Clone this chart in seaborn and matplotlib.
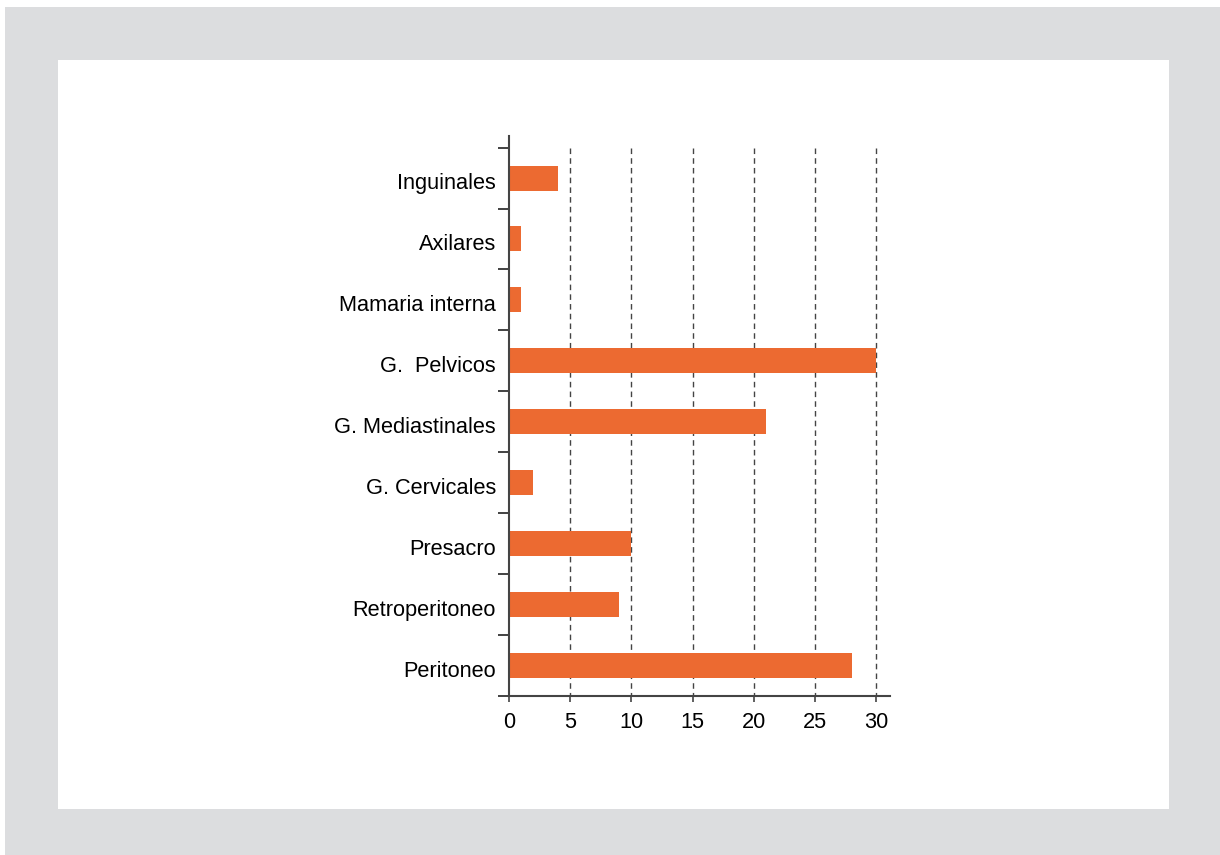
import numpy as np
import pandas as pd
import matplotlib
matplotlib.use("Agg")
import matplotlib.pyplot as plt
from matplotlib.patches import Rectangle
from matplotlib.ticker import FixedLocator
from matplotlib.transforms import ScaledTranslation
import seaborn as sns

# datos
categorias = ["Inguinales", "Axilares", "Mamaria interna", "G.  Pelvicos",
              "G. Mediastinales", "G. Cervicales", "Presacro",
              "Retroperitoneo", "Peritoneo"]
valores = [4, 1, 1, 30, 21, 2, 10, 9, 28]
xticks = [0, 5, 10, 15, 20, 25, 30]

df = pd.DataFrame({"zona": categorias, "n": valores})

sns.set_style("white")
plt.rcParams['font.family'] = ['Liberation Sans', 'DejaVu Sans']

fig = plt.figure(figsize=(12.2, 8.55), dpi=100)
fig.patch.set_facecolor("white")

# fondo gris y panel blanco
fig.patches.append(Rectangle((5 / 1220, 0), 1, 1 - 7 / 855, transform=fig.transFigure,
                             facecolor="#dcdddf", edgecolor="none", zorder=-10))
fig.patches.append(Rectangle((58 / 1220, 1 - 809 / 855), (1169 - 58) / 1220, (809 - 60) / 855,
                             transform=fig.transFigure, facecolor="white",
                             edgecolor="none", zorder=-9))

ax = fig.add_axes([509 / 1220, 1 - 696 / 855, (890 - 509) / 1220, (696 - 136) / 855])
ax.set_facecolor("none")

sns.barplot(data=df, x="n", y="zona", orient="h", order=categorias,
            color="#ec6a31", saturation=1, width=0.41, linewidth=0, ax=ax, zorder=3)

n = len(categorias)
ax.set_ylim(n - 0.5, -0.69)
ax.set_xlim(0, 31.14)

# rejilla discontinua
ax.vlines(xticks[1:], -0.5, n - 0.5, colors="#444444", linestyles=(0, (4, 3)),
          linewidth=1.0, zorder=2)

ax.set_xticks(xticks)
ax.set_xticklabels([str(t) for t in xticks])
ax.yaxis.set_minor_locator(FixedLocator(np.arange(-0.5, n, 1.0)))
ax.tick_params(axis="y", which="major", length=0, pad=9.4, labelsize=15.7, colors="black")
ax.tick_params(axis="y", which="minor", length=8, width=1.2, color="#222222", direction="out")
ax.tick_params(axis="x", which="major", length=4, width=1.2, color="#444444", pad=7.5,
               labelsize=15.7, labelcolor="black", direction="out")
ax.tick_params(left=True, bottom=True, which="both")
ax.tick_params(axis="y", which="major", left=False)

# etiquetas un poco más abajo, como en el original
desplaza = ScaledTranslation(0, -3 / 100, fig.dpi_scale_trans)
for lab in ax.get_yticklabels():
    lab.set_transform(lab.get_transform() + desplaza)

for s in ["top", "right"]:
    ax.spines[s].set_visible(False)
for s in ["left", "bottom"]:
    ax.spines[s].set_color("#444444")
    ax.spines[s].set_linewidth(1.5)
    ax.spines[s].set_zorder(5)

ax.set_xlabel("")
ax.set_ylabel("")

fig.savefig("out.png", dpi=100, facecolor=fig.get_facecolor())
